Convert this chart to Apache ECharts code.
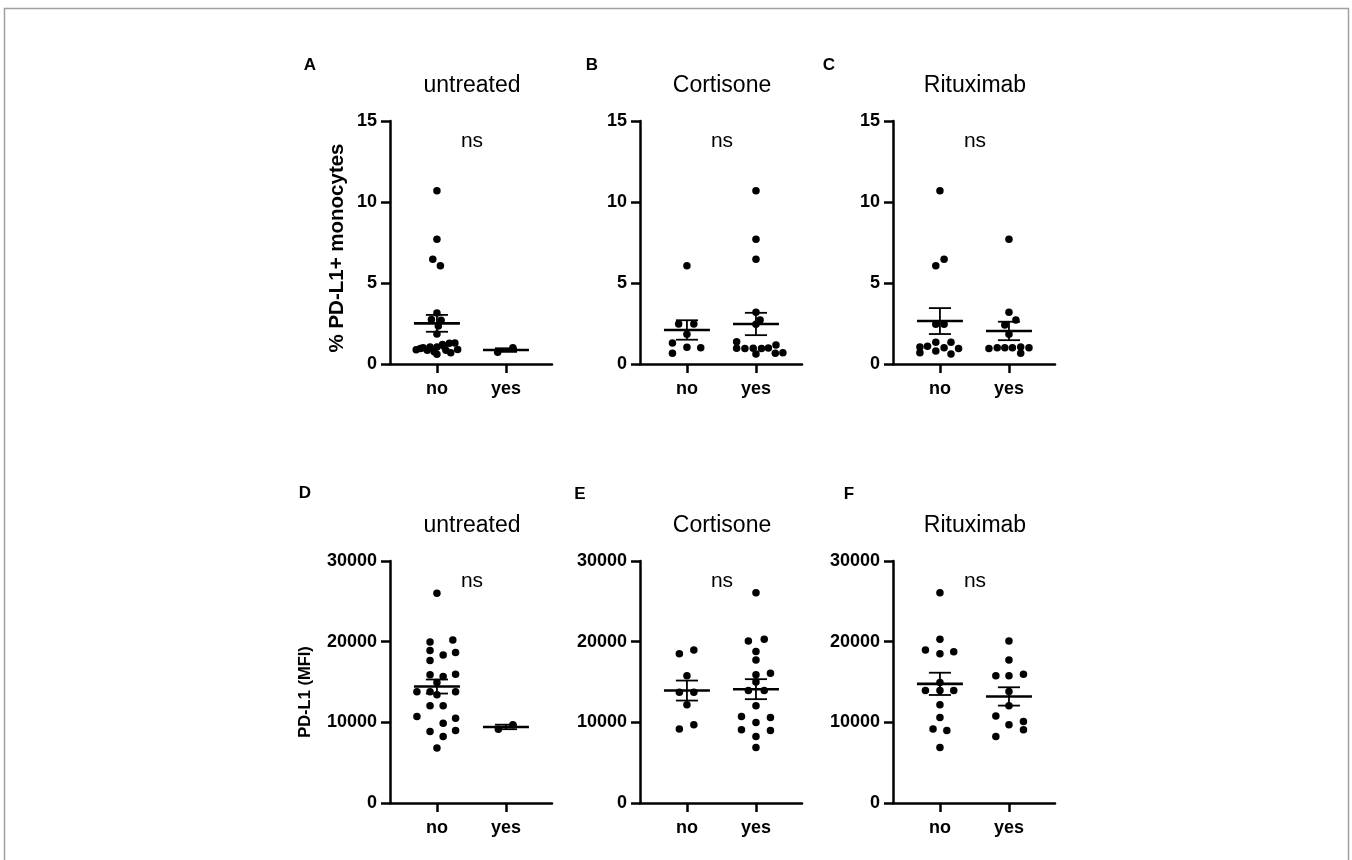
<!DOCTYPE html>
<html>
	<head>
		<title>PD-L1 monocytes</title>
		<meta http-equiv="content-type" content="text/html; charset=UTF-8">
		<script src="https://cdn.jsdelivr.net/npm/echarts@6/dist/echarts.min.js"></script>
		<style>
			html {height: 100%; width: 100%;}
			body {height: 100%; width: 100%; margin:0px; background:#fff;}
		</style>
		<script>
			// data
			const categories = ['no', 'yes'];
			const panelTitles = ['untreated', 'Cortisone', 'Rituximab'];
			const panelLetters = ['A', 'B', 'C', 'D', 'E', 'F'];
			const yNames = ['% PD-L1+ monocytes', 'PD-L1 (MFI)'];

			// % PD-L1+ monocytes
			const pctUntreatedNo = [10.7, 7.7, 6.46, 6.07, 3.15, 2.75, 2.7, 2.35, 1.85,
				0.88, 1.0, 1.05, 1.05, 1.1, 1.28, 1.3, 1.2, 0.9, 0.85, 0.75, 0.6, 0.7, 0.95, 0.85];
			const pctUntreatedNoJit = [0, 0, -0.06, 0.05, 0, -0.08, 0.06, 0.02, 0,
				-0.3, -0.2, -0.1, 0.0, 0.1, 0.18, 0.26, 0.08, 0.3, -0.14, -0.04, 0.0, 0.2, -0.24, 0.13];
			const pctUntreatedYes = [0.72, 1.0];
			const pctUntreatedYesJit = [-0.12, 0.1];

			const pctCortisoneNo = [6.07, 2.47, 2.47, 1.83, 1.3, 1.03, 1.0, 0.66];
			const pctCortisoneNoJit = [0, -0.12, 0.1, 0, -0.21, 0, 0.2, -0.21];
			const pctCortisoneYes = [10.7, 7.7, 6.46, 3.2, 2.72, 2.45,
				1.38, 1.17, 0.97, 0.95, 0.97, 0.95, 0.98, 0.62, 0.66, 0.7];
			const pctCortisoneYesJit = [0, 0, 0, 0, 0.06, 0,
				-0.28, 0.29, -0.28, -0.16, -0.04, 0.08, 0.18, 0.0, 0.28, 0.39];

			const pctRituximabNo = [10.7, 6.46, 6.07, 2.45, 2.45,
				1.35, 1.35, 1.1, 1.05, 1.0, 0.95, 0.8, 0.7, 0.62];
			const pctRituximabNoJit = [0, 0.06, -0.06, -0.06, 0.06,
				-0.06, 0.16, -0.18, -0.29, 0.06, 0.27, -0.06, -0.29, 0.16];
			const pctRituximabYes = [7.7, 3.2, 2.72, 2.4, 1.83,
				0.95, 1.0, 1.0, 1.0, 1.05, 1.0, 0.66];
			const pctRituximabYesJit = [0, 0, 0.1, -0.06, 0,
				-0.29, -0.17, -0.06, 0.05, 0.17, 0.29, 0.17];

			// PD-L1 (MFI)
			const mfiUntreatedNo = [26000, 19970, 20220, 18900, 18360, 18650, 17660, 15890, 15680, 15970,
				14940, 13780, 13780, 13780, 13410, 12050, 12050, 10720, 10520, 9900, 8870, 8990, 8250, 6810];
			const mfiUntreatedNoJit = [0, -0.1, 0.23, -0.1, 0.09, 0.27, -0.1, -0.1, 0.09, 0.27,
				0, -0.29, -0.1, 0.27, 0, -0.1, 0.09, -0.29, 0.27, 0.09, -0.1, 0.27, 0.09, 0];
			const mfiUntreatedYes = [9150, 9700];
			const mfiUntreatedYesJit = [-0.11, 0.1];

			const mfiCortisoneNo = [18490, 18980, 15760, 13740, 13740, 12170, 9160, 9700];
			const mfiCortisoneNoJit = [-0.11, 0.1, 0, -0.11, 0.1, 0, -0.11, 0.1];
			const mfiCortisoneYes = [26050, 20090, 20300, 18770, 17740, 15890, 16090, 14990, 13960,
				13960, 12050, 10720, 10600, 9990, 9070, 8990, 8250, 6890];
			const mfiCortisoneYesJit = [0, -0.11, 0.12, 0, 0, 0, 0.21, 0, -0.11,
				0.12, 0, -0.21, 0.21, 0, -0.21, 0.21, 0, 0];

			const mfiRituximabNo = [26050, 20300, 18980, 18490, 18740, 14940, 13960, 13960, 13960,
				12170, 10600, 9160, 8990, 6890];
			const mfiRituximabNoJit = [0, 0, -0.21, 0, 0.2, 0, -0.21, 0, 0.2,
				0, 0, -0.1, 0.1, 0];
			const mfiRituximabYes = [20090, 17740, 15760, 15760, 15970, 13830, 12050, 10800, 9700,
				10110, 9070, 8250];
			const mfiRituximabYesJit = [0, 0, -0.19, 0, 0.21, 0, 0, -0.19, 0,
				0.21, 0.21, -0.19];

			// mean and SEM per panel, [no, yes]
			const pctMean = [[2.51, 0.86], [2.10, 2.47], [2.65, 2.04]];
			const pctSem = [[0.52, 0.11], [0.60, 0.69], [0.80, 0.57]];
			const mfiMean = [[14440, 9430], [13940, 14110], [14770, 13210]];
			const mfiSem = [[870, 280], [1240, 1240], [1380, 1135]];

			const FONT = '"Liberation Sans", Arial, Helvetica, sans-serif';

			function jitterPoints(cat, values, jit) {
				return values.map(function (v, i) { return [cat + jit[i], v]; });
			}

			function onload() {
				const chart = echarts.init(document.getElementById('container'), null, {renderer: 'canvas'});

				const pctGroups = [
					[pctUntreatedNo, pctUntreatedNoJit, pctUntreatedYes, pctUntreatedYesJit],
					[pctCortisoneNo, pctCortisoneNoJit, pctCortisoneYes, pctCortisoneYesJit],
					[pctRituximabNo, pctRituximabNoJit, pctRituximabYes, pctRituximabYesJit]
				];
				const mfiGroups = [
					[mfiUntreatedNo, mfiUntreatedNoJit, mfiUntreatedYes, mfiUntreatedYesJit],
					[mfiCortisoneNo, mfiCortisoneNoJit, mfiCortisoneYes, mfiCortisoneYesJit],
					[mfiRituximabNo, mfiRituximabNoJit, mfiRituximabYes, mfiRituximabYesJit]
				];

				const lefts = [390, 640, 893];
				const rows = [
					{top: 121, height: 243, max: 15, interval: 5, groups: pctGroups, mean: pctMean, sem: pctSem,
						nameX: 337, nameY: 248, nameSize: 20.5},
					{top: 561, height: 242, max: 30000, interval: 10000, groups: mfiGroups, mean: mfiMean, sem: mfiSem,
						nameX: 305, nameY: 692, nameSize: 16.5}
				];

				const grid = [], xAxis = [], yAxis = [], series = [], graphic = [];

				rows.forEach(function (row, r) {
					graphic.push({type: 'text', x: row.nameX, y: row.nameY, rotation: Math.PI / 2,
						style: {text: yNames[r], font: 'bold ' + row.nameSize + 'px ' + FONT, fill: '#000',
							textAlign: 'center', textVerticalAlign: 'middle'}});
					lefts.forEach(function (left, c) {
						const idx = grid.length;
						grid.push({left: left, top: row.top, width: 162, height: row.height});
						xAxis.push({
							gridIndex: idx, type: 'value', min: 0.32, max: 2.667,
							axisLine: {show: true, onZero: false, lineStyle: {color: '#000', width: 2.5}},
							axisTick: {show: true, customValues: [1, 2], length: 9, lineStyle: {color: '#000', width: 2.5}},
							axisLabel: {customValues: [1, 2], margin: 16, color: '#000', fontFamily: FONT,
								fontWeight: 'bold', fontSize: 18,
								formatter: function (v) { return categories[Math.round(v) - 1]; }},
							splitLine: {show: false}
						});
						yAxis.push({
							gridIndex: idx, type: 'value', min: 0, max: row.max, interval: row.interval,
							axisLine: {show: true, lineStyle: {color: '#000', width: 2.5}},
							axisTick: {show: true, length: 9, lineStyle: {color: '#000', width: 2.5}},
							axisLabel: {margin: 13, color: '#000', fontFamily: FONT, fontWeight: 'bold', fontSize: 18,
								formatter: function (v) { return String(v); }},
							splitLine: {show: false}
						});
						const g = row.groups[c];
						series.push({
							type: 'scatter', xAxisIndex: idx, yAxisIndex: idx,
							data: jitterPoints(1, g[0], g[1]).concat(jitterPoints(2, g[2], g[3])),
							symbolSize: 7.5, itemStyle: {color: '#000', opacity: 1}, silent: true
						});
						series.push({
							type: 'custom', xAxisIndex: idx, yAxisIndex: idx, clip: false, silent: true,
							data: [[1, row.mean[c][0], row.sem[c][0]], [2, row.mean[c][1], row.sem[c][1]]],
							renderItem: function (params, api) {
								const x = api.value(0), m = api.value(1), s = api.value(2);
								const mL = api.coord([x - 0.333, m]), mR = api.coord([x + 0.333, m]);
								const top = api.coord([x, m + s]), bot = api.coord([x, m - s]);
								const cL = api.coord([x - 0.16, m]), cR = api.coord([x + 0.16, m]);
								const thin = {stroke: '#000', lineWidth: 1.8};
								return {type: 'group', children: [
									{type: 'line', shape: {x1: mL[0], y1: mL[1], x2: mR[0], y2: mR[1]}, style: {stroke: '#000', lineWidth: 2.6}},
									{type: 'line', shape: {x1: top[0], y1: top[1], x2: bot[0], y2: bot[1]}, style: thin},
									{type: 'line', shape: {x1: cL[0], y1: top[1], x2: cR[0], y2: top[1]}, style: thin},
									{type: 'line', shape: {x1: cL[0], y1: bot[1], x2: cR[0], y2: bot[1]}, style: thin}
								]};
							}
						});
						// panel title and ns label
						const cx = left + 82;
						graphic.push({type: 'text', x: cx, y: row.top - 35, style: {text: panelTitles[c],
							font: '23px ' + FONT, fill: '#000', textAlign: 'center', textVerticalAlign: 'middle'}});
						graphic.push({type: 'text', x: cx, y: row.top + 20, style: {text: 'ns',
							font: '21px ' + FONT, fill: '#000', textAlign: 'center', textVerticalAlign: 'middle'}});
					});
				});

				const letterPos = [[310, 65], [592, 65], [829, 65], [305, 493], [580, 494], [849, 494]];
				panelLetters.forEach(function (l, i) {
					graphic.push({type: 'text', x: letterPos[i][0], y: letterPos[i][1], style: {text: l,
						font: 'bold 17px ' + FONT, fill: '#000', textAlign: 'center', textVerticalAlign: 'middle'}});
				});
				graphic.push({type: 'rect', shape: {x: 4.5, y: 8.5, width: 1344, height: 880},
					style: {fill: 'none', stroke: '#a0a0a0', lineWidth: 1.5}, silent: true});

				chart.setOption({
					backgroundColor: '#fff',
					animation: false,
					grid: grid, xAxis: xAxis, yAxis: yAxis, series: series, graphic: graphic
				});
			}
		</script>
	</head>
	<body onload="onload()">
		<div id="container" style="width:1352px;height:860px;"></div>
	</body>
</html>
